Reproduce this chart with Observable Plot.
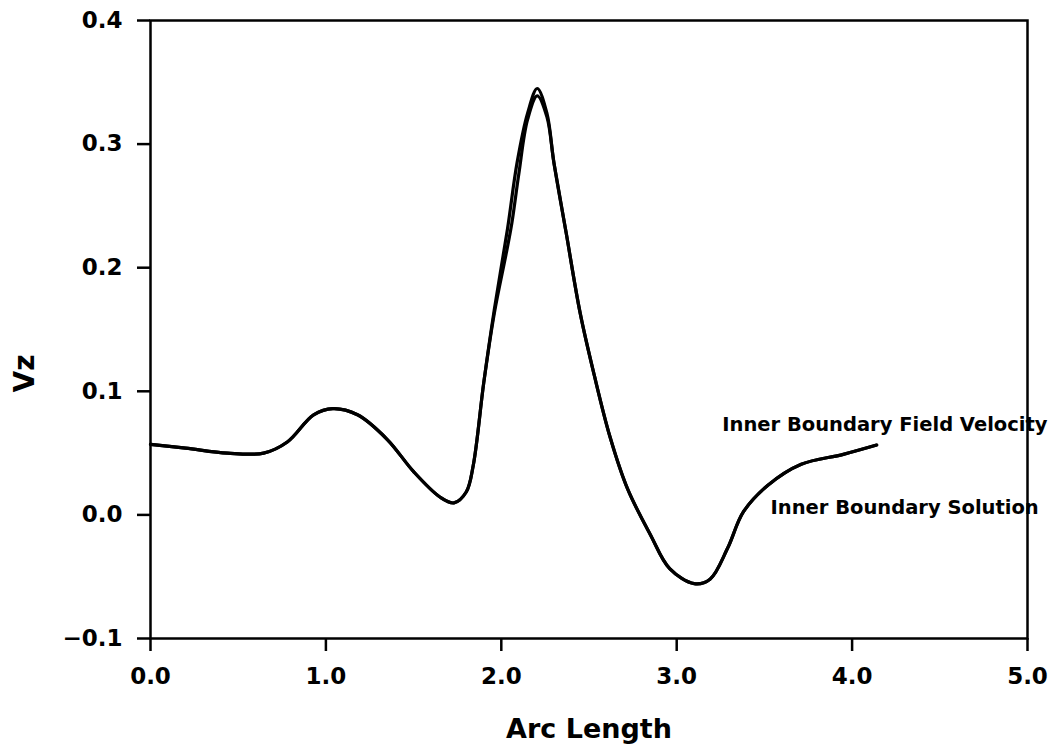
<!DOCTYPE html>
<html><head><meta charset="utf-8">
<script src="https://cdn.jsdelivr.net/npm/d3@7"></script>
<script src="https://cdn.jsdelivr.net/npm/@observablehq/plot@0.6"></script>
<style>body{margin:0;background:#fff;}</style>
</head><body><div id="chart"></div>
<script>
const fieldArc = [0.0, 0.2, 0.44, 0.645, 0.78, 0.93, 1.04, 1.18, 1.35, 1.50, 1.65, 1.73, 1.80, 1.84, 1.90, 1.96, 2.035, 2.09, 2.15, 2.205, 2.26, 2.30, 2.37, 2.45, 2.53, 2.62, 2.72, 2.85, 2.96, 3.10, 3.19, 3.29, 3.38, 3.52, 3.71, 3.95, 4.14];
const fieldVz = [0.057, 0.054, 0.050, 0.050, 0.059, 0.081, 0.086, 0.081, 0.061, 0.035, 0.0145, 0.0097, 0.0185, 0.040, 0.107, 0.166, 0.231, 0.285, 0.325, 0.345, 0.325, 0.285, 0.228, 0.163, 0.113, 0.063, 0.021, -0.016, -0.0435, -0.0556, -0.052, -0.027, 0.0024, 0.024, 0.041, 0.049, 0.0565];
const solArc = [0.0, 0.2, 0.44, 0.645, 0.78, 0.93, 1.04, 1.18, 1.35, 1.50, 1.65, 1.73, 1.80, 1.84, 1.90, 1.96, 2.03, 2.06, 2.10, 2.15, 2.205, 2.26, 2.30, 2.37, 2.45, 2.53, 2.62, 2.72, 2.85, 2.96, 3.10, 3.19, 3.29, 3.38, 3.52, 3.71, 3.95, 4.14];
const solVz = [0.057, 0.054, 0.050, 0.050, 0.059, 0.081, 0.086, 0.081, 0.061, 0.035, 0.0145, 0.0097, 0.0185, 0.040, 0.107, 0.163, 0.213, 0.236, 0.276, 0.320, 0.339, 0.322, 0.285, 0.228, 0.163, 0.113, 0.063, 0.021, -0.016, -0.0435, -0.0556, -0.052, -0.027, 0.0024, 0.024, 0.041, 0.049, 0.0565];
const xTicks = [0, 1, 2, 3, 4, 5];
const yTicks = [-0.1, 0, 0.1, 0.2, 0.3, 0.4];
const seriesLabels = ["Inner Boundary Field Velocity", "Inner Boundary Solution"];
const labelArc = [3.26, 3.535];
const labelVz = [0.073, 0.0055];
const xTitle = "Arc Length";
const yTitle = "Vz";

const fieldRows = fieldArc.map((a, i) => ({arc: a, vz: fieldVz[i]}));
const solRows = solArc.map((a, i) => ({arc: a, vz: solVz[i]}));
const labelRows = seriesLabels.map((t, i) => ({t, arc: labelArc[i], vz: labelVz[i]}));
const fmt = d => (d < 0 ? "\u2212" + Math.abs(d).toFixed(1) : d.toFixed(1));

const chart = Plot.plot({
  width: 1059,
  height: 752,
  marginLeft: 150,
  marginRight: 32,
  marginTop: 20,
  marginBottom: 114,
  x: {domain: [0, 5]},
  y: {domain: [-0.1, 0.4]},
  style: {fontFamily: "DejaVu Sans", background: "white", color: "black"},
  marks: [
    Plot.frame({strokeWidth: 2.5}),
    Plot.axisX(xTicks, {tickSize: 13, tickPadding: 16, tickFormat: fmt, fontSize: 23, fontWeight: "bold", strokeWidth: 2.5, label: null}),
    Plot.axisY(yTicks, {tickSize: 13, tickPadding: 15, tickFormat: fmt, fontSize: 23, fontWeight: "bold", strokeWidth: 2.5, label: null}),
    Plot.line(solRows, {x: "arc", y: "vz", curve: "catmull-rom", stroke: "black", strokeWidth: 3.2}),
    Plot.line(fieldRows, {x: "arc", y: "vz", curve: "catmull-rom", stroke: "black", strokeWidth: 3.2}),
    Plot.text(labelRows, {x: "arc", y: "vz", text: "t", textAnchor: "start", fontSize: 19.5, fontWeight: "bold", fill: "black"}),
    Plot.text([xTitle], {text: d => d, frameAnchor: "bottom", lineAnchor: "middle", dy: 91, fontSize: 27, fontWeight: "bold", fill: "black"}),
    Plot.text([yTitle], {text: d => d, frameAnchor: "left", textAnchor: "middle", lineAnchor: "middle", rotate: -90, dx: -125, dy: 44, fontSize: 28, fontWeight: "bold", fill: "black"})
  ]
});
document.getElementById("chart").append(chart);
</script>
</body></html>
